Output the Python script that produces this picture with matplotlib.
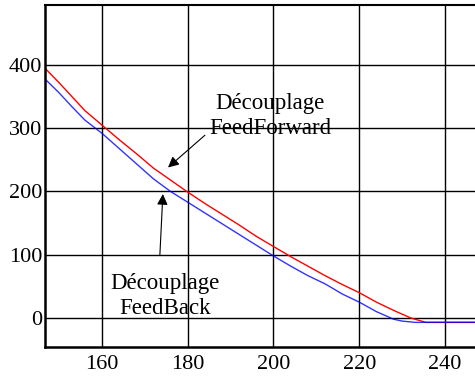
import matplotlib.pyplot as plt

# curves
red_x = [146.7, 150, 153, 156, 160, 164, 168, 172, 176, 180, 184, 188, 192, 196,
         200, 204, 208, 212, 216, 220, 224, 228, 232, 235.5, 248]
red_y = [395, 372, 350, 328, 305, 282, 260, 237, 218, 199, 181, 164, 147, 129,
         113, 97, 82, 67, 53, 40, 25, 12, 0, -7, -7]

blue_x = [146.7, 150, 153, 156, 160, 164, 168, 172, 176, 180, 184, 188, 192, 196,
          200, 204, 208, 212, 216, 220, 224, 228, 230, 233, 248]
blue_y = [378, 356, 334, 313, 292, 268, 244, 220, 200, 183, 166, 149, 132, 115,
          98, 82, 67, 54, 38, 25, 10, -2, -5, -7, -7]

xticks = [160, 180, 200, 220, 240]
yticks = [0, 100, 200, 300, 400]

plt.rcParams['font.family'] = ['Liberation Serif', 'DejaVu Serif']

fig = plt.figure(figsize=(4.75, 3.76), dpi=100)
ax = fig.add_axes([0.0947, 0.0771, 0.9053, 0.9096])

ax.plot(red_x, red_y, color='red', lw=1)
ax.plot(blue_x, blue_y, color='blue', lw=1, alpha=0.8)

ax.set_xlim(146.7, 247)
ax.set_ylim(-46, 495)
ax.set_xticks(xticks)
ax.set_yticks(yticks)
ax.grid(True, color='black', lw=1)
ax.tick_params(length=0, labelsize=16)
ax.tick_params(axis='x', pad=6)
ax.tick_params(axis='y', pad=2)
ax.spines['right'].set_visible(False)
for s in ['left', 'bottom']:
    ax.spines[s].set_linewidth(1.8)
ax.spines['top'].set_linewidth(1.5)

# labels and arrows
arrow = dict(arrowstyle='-|>', color='black', lw=0.8,
             mutation_scale=16, shrinkA=0, shrinkB=0)
ax.text(199.2, 320, 'Découplage\nFeedForward', fontsize=16.5,
        ha='center', va='center', linespacing=1.25)
ax.annotate('', xy=(175.4, 238), xytext=(184.0, 289), arrowprops=arrow)
ax.text(174.7, 34, 'Découplage\nFeedBack', fontsize=16.5,
        ha='center', va='center', linespacing=1.25)
ax.annotate('', xy=(174.2, 196), xytext=(173.5, 100), arrowprops=arrow)

fig.savefig('out.png', dpi=100)
